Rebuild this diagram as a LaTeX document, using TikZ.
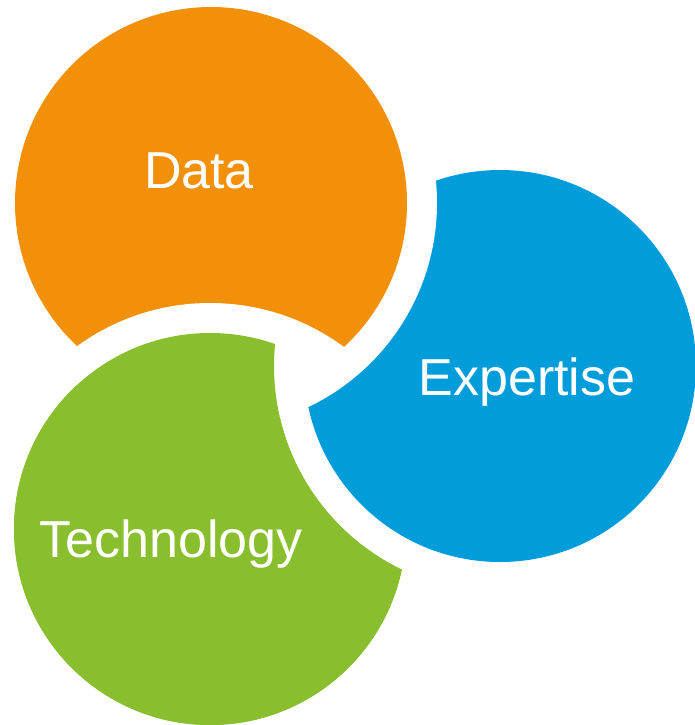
\documentclass[tikz,border=0pt]{standalone}
\usepackage{fontspec}
\setmainfont{Liberation Sans}
\usepackage{xcolor}
\usetikzlibrary{positioning}

\definecolor{dataorange}{HTML}{F29109}
\definecolor{expblue}{HTML}{009DDA}
\definecolor{techgreen}{HTML}{89BE2E}

\tikzset{
    gap/.style={fill=white},
    circletext/.style={text=white, font=\fontsize{52}{60}\selectfont, anchor=base, inner sep=0pt},
}

\begin{document}
\begin{tikzpicture}[x=1pt,y=-1pt]
    \useasboundingbox (0,0) rectangle (695,725);

    % Centres
    \coordinate (cd) at (211,203);
    \coordinate (ce) at (500,366);
    \coordinate (ct) at (210,529);

    % Technology
    \fill[gap] (ct) circle (226pt);
    \fill[techgreen] (ct) circle (196pt);

    % Expertise
    \fill[gap] (ce) circle (226pt);
    \fill[expblue] (ce) circle (196pt);

    % Data
    \fill[gap] (cd) circle (226pt);
    \fill[dataorange] (cd) circle (196pt);

    % Technology again, over Data but under Expertise
    \begin{scope}
        \clip (cd) circle (205pt);
        \fill[gap] (ct) circle (226pt);
    \end{scope}
    \begin{scope}[even odd rule]
        \clip (0,0) rectangle (695,725) (ce) circle (226pt);
        \fill[techgreen] (ct) circle (196pt);
    \end{scope}

    % Labels
    \node[circletext] (data) at (199,188) {Data};
    \node[circletext] (expertise) at (527,395) {Expertise};
    \node[circletext] (technology) at (171,557) {Technology};
\end{tikzpicture}
\end{document}
